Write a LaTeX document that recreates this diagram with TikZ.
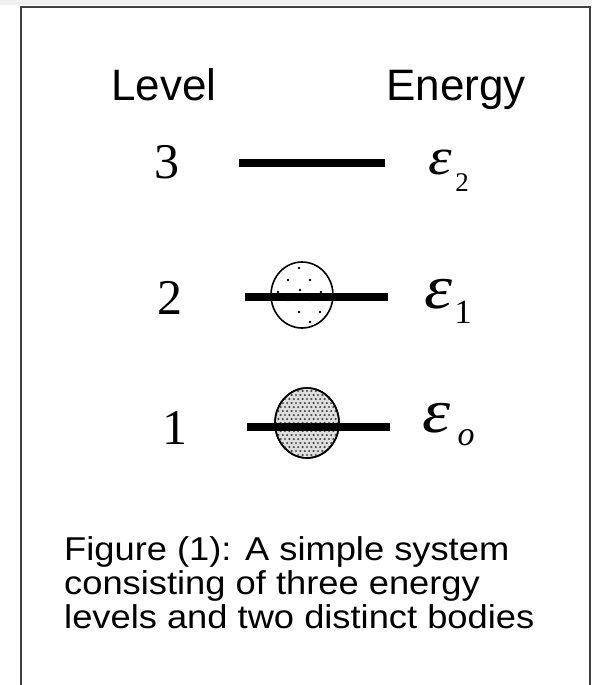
\documentclass[tikz,border=0pt]{standalone}
\usepackage{fontspec}
\usepackage{graphicx}
\setmainfont{Liberation Serif}
\newfontfamily\arialf{Liberation Sans}
\newfontfamily\timesf{Liberation Serif}
\usetikzlibrary{shapes.geometric}
\newcommand{\wideeps}{\scalebox{1.15}[1]{ε}}
\begin{document}
\begin{tikzpicture}[x=1pt,y=-1pt,
  hdr/.style={font=\arialf\fontsize{44}{48}\selectfont, inner sep=0pt, anchor=base},
  num/.style={font=\timesf\fontsize{50}{56}\selectfont, inner sep=0pt},
  eps/.style={font=\timesf\itshape\fontsize{62}{66}\selectfont, inner sep=0pt},
  epssmall/.style={font=\timesf\itshape\fontsize{52}{56}\selectfont, inner sep=0pt},
  sub/.style={font=\timesf\fontsize{30}{34}\selectfont, inner sep=0pt},
  bar/.style={line width=8pt, black},
  body/.style={ellipse, draw=black, line width=1.6pt, inner sep=0pt},
  captxt/.style={font=\arialf\fontsize{33}{36}\selectfont, inner sep=0pt, anchor=base west}
]
\useasboundingbox (0,0) rectangle (592,685);
\fill[gray!12] (0,0) rectangle (592,5);
% frame
\draw[line width=2.2pt, black!75] (21,685) -- (21,7) -- (590,7) -- (590,685);

% headers
\node[hdr] (lvl) at (164,100) {Level};
\node[hdr] (eng) at (456,100) {Energy};

% level numbers
\node[num] (n3) at (167,162) {3};
\node[num] (n2) at (170,298) {2};
\node[num] (n1) at (175,428) {1};

% level 3 bar
\coordinate (b3a) at (239,163);
\coordinate (b3b) at (385,163);
\draw[bar] (b3a) -- (b3b);

% level 2 body (sparse dots)
\node[body, minimum width=62pt, minimum height=66pt, fill=white] (c2) at (302,295) {};
\foreach \dx/\dy in {-3/-27,-14/-15,8/-15,-24/-3,-2/-5,19/-3,-14/5,8/5,-3/17,18/17,8/27}
  \fill ([shift={(\dx,\dy)}]c2.center) circle (1.3pt);
\coordinate (b2a) at (245,297);
\coordinate (b2b) at (388,297);
\draw[bar] (b2a) -- (b2b);

% level 1 body (dense dots)
\node[body, minimum width=64pt, minimum height=70pt, fill=gray!25] (c1) at (307,423) {};
\begin{scope}
  \clip (307,423) ellipse (31pt and 34pt);
  \foreach \i in {-8,...,8}
    \foreach \j in {-9,...,9} {
      \pgfmathsetmacro{\px}{307+\i*4.4+2.2*isodd(\j)}
      \pgfmathsetmacro{\py}{423+\j*4.0}
      \fill[black!70] (\px,\py) circle (1.2pt);
    }
\end{scope}
\draw[line width=1.6pt] (c1.center) ellipse (32pt and 35pt);
\coordinate (b1a) at (247,427);
\coordinate (b1b) at (390,427);
\draw[bar] (b1a) -- (b1b);

% energy labels
\node[epssmall] (e2) at (440,163) {\wideeps};
\node[sub, font=\timesf\fontsize{27}{30}\selectfont] (s2) at (462,183) {2};
\node[eps] (e1) at (439,294) {\wideeps};
\node[sub, font=\timesf\fontsize{34}{36}\selectfont] (s1) at (463,312) {1};
\node[eps] (e0) at (437,418) {\wideeps};
\node[sub, font=\timesf\itshape\fontsize{34}{36}\selectfont] (s0) at (466,438) {o};

% caption
\node[captxt] (l1) at (64,560) {\scalebox{1.1}[1]{Figure (1): A simple system}};
\node[captxt] (l2) at (64,594) {\scalebox{1.1}[1]{consisting of three energy}};
\node[captxt] (l3) at (64,628) {\scalebox{1.1}[1]{levels and two distinct bodies}};
\end{tikzpicture}
\end{document}
